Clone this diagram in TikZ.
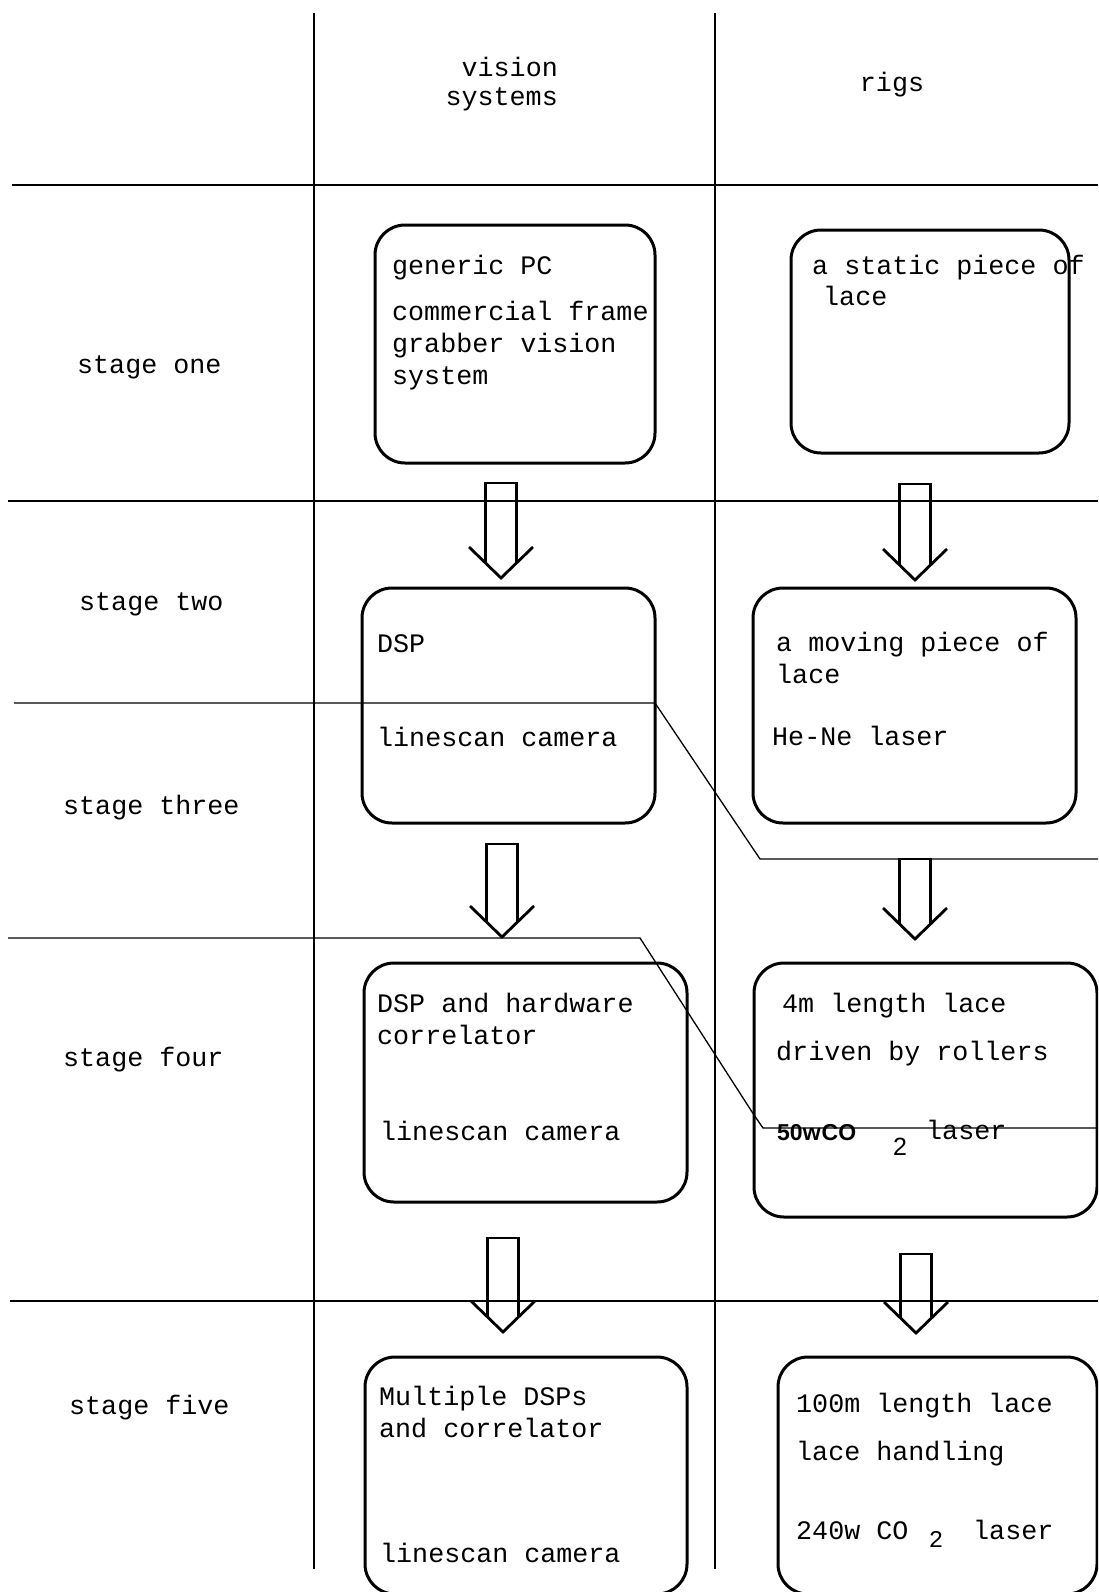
\documentclass[tikz,border=0pt]{standalone}
\usepackage{fontspec}
\setmainfont{Liberation Mono}
\newfontfamily\labelsans{Liberation Sans}

% hollow block arrow: centre x, top of shaft, tip y
\newcommand\stagearrow[3]{%
  \draw[arrowline] ({#1-32},{#3-31}) -- (#1,#3) -- ({#1+32},{#3-31});
  \draw[arrowline] ({#1-15.5},{#3-15}) -- ({#1-15.5},#2) -- ({#1+15.5},#2) -- ({#1+15.5},{#3-15});
}

\begin{document}
\begin{tikzpicture}[x=1pt,y=-1pt,
  grid/.style={line width=1.3pt},
  stagebox/.style={draw, line width=3pt, rounded corners=30pt, inner sep=0pt},
  arrowline/.style={line width=2.8pt, line join=miter},
  lbl/.style={anchor=base west, inner sep=0pt, font=\fontsize{26.7}{32}\selectfont},
  sublbl/.style={anchor=base, inner sep=0pt},
]
\useasboundingbox (0,0) rectangle (1098,1592);
\clip (0,0) rectangle (1098,1592);

% table rules
\draw[grid] (314,13) -- (314,1569);
\draw[grid] (715,13) -- (715,1569);
\draw[grid] (12,185) -- (1098,185);
\draw[grid] (8,501) -- (1098,501);
\draw[grid] (14,703) -- (655,703) -- (760,859) -- (1098,859);
\draw[grid] (8,938) -- (640,938) -- (754,1115) -- (763,1128) -- (1098,1128);
\draw[grid] (10,1301) -- (1098,1301);

% column headings
\node[lbl, anchor=base east] (hvision) at (558,77) {vision};
\node[lbl, anchor=base east] (hsystems) at (558,106) {systems};
\node[lbl, anchor=base] (hrigs) at (892,92) {rigs};

% row headings
\node[lbl] (sone) at (77,373) {stage one};
\node[lbl] (stwo) at (79,610) {stage two};
\node[lbl] (sthree) at (63,814) {stage three};
\node[lbl] (sfour) at (63,1066) {stage four};
\node[lbl] (sfive) at (69,1414) {stage five};

% boxes
\node[stagebox, minimum width=280pt, minimum height=238pt] (v1) at (515,344) {};
\node[stagebox, minimum width=278pt, minimum height=223pt] (r1) at (930,341.5) {};
\node[stagebox, minimum width=293pt, minimum height=235pt] (v2) at (508.5,705.5) {};
\node[stagebox, minimum width=323pt, minimum height=235pt] (r2) at (914.5,705.5) {};
\node[stagebox, minimum width=323pt, minimum height=239pt] (v4) at (525.5,1082.5) {};
\node[stagebox, minimum width=343pt, minimum height=254pt] (r4) at (925.5,1090) {};
\node[stagebox, minimum width=322pt, minimum height=237pt] (v5) at (526,1475.5) {};
\node[stagebox, minimum width=319pt, minimum height=237pt] (r5) at (937.5,1475.5) {};

% box texts
\node[lbl] (t1a) at (392,274) {generic PC};
\node[lbl] (t1b) at (392,320) {commercial frame};
\node[lbl] (t1c) at (392,352) {grabber vision};
\node[lbl] (t1d) at (392,384) {system};

\node[lbl] (t2a) at (812,274) {a static piece of};
\node[lbl] (t2b) at (823,305) {lace};

\node[lbl] (t3a) at (377,652) {DSP};
\node[lbl] (t3b) at (377,746) {linescan camera};

\node[lbl] (t4a) at (776,651) {a moving piece of};
\node[lbl] (t4b) at (776,683) {lace};
\node[lbl] (t4c) at (772,745) {He-Ne laser};

\node[lbl] (t5a) at (377,1012) {DSP and hardware};
\node[lbl] (t5b) at (377,1044) {correlator};
\node[lbl] (t5c) at (380,1140) {linescan camera};

\node[lbl] (t6a) at (782,1012) {4m length lace};
\node[lbl] (t6b) at (776,1060) {driven by rollers};
\node[anchor=base west, inner sep=0pt, font=\labelsans\bfseries\fontsize{23}{27}\selectfont] (t6c) at (777,1140) {50w\hspace{1pt}CO};
\node[sublbl, font=\labelsans\fontsize{25}{29}\selectfont] (t6d) at (900,1155) {2};
\node[lbl] (t6e) at (926,1139) {laser};

\node[lbl] (t7a) at (379,1405) {Multiple DSPs};
\node[lbl] (t7b) at (379,1437) {and correlator};
\node[lbl] (t7c) at (380,1562) {linescan camera};

\node[lbl] (t8a) at (796,1412) {100m length lace};
\node[lbl] (t8b) at (796,1460) {lace handling};
\node[lbl] (t8c) at (796,1539) {240w CO};
\node[sublbl, font=\fontsize{24}{28}\selectfont] (t8d) at (936,1547) {2};
\node[lbl] (t8e) at (973,1539) {laser};

% stage-to-stage arrows
\stagearrow{501}{483}{578}
\stagearrow{915}{484}{580}
\stagearrow{502}{844}{937}
\stagearrow{915}{859}{939}
\stagearrow{503}{1238}{1332}
\stagearrow{916}{1254}{1333}
\end{tikzpicture}
\end{document}
